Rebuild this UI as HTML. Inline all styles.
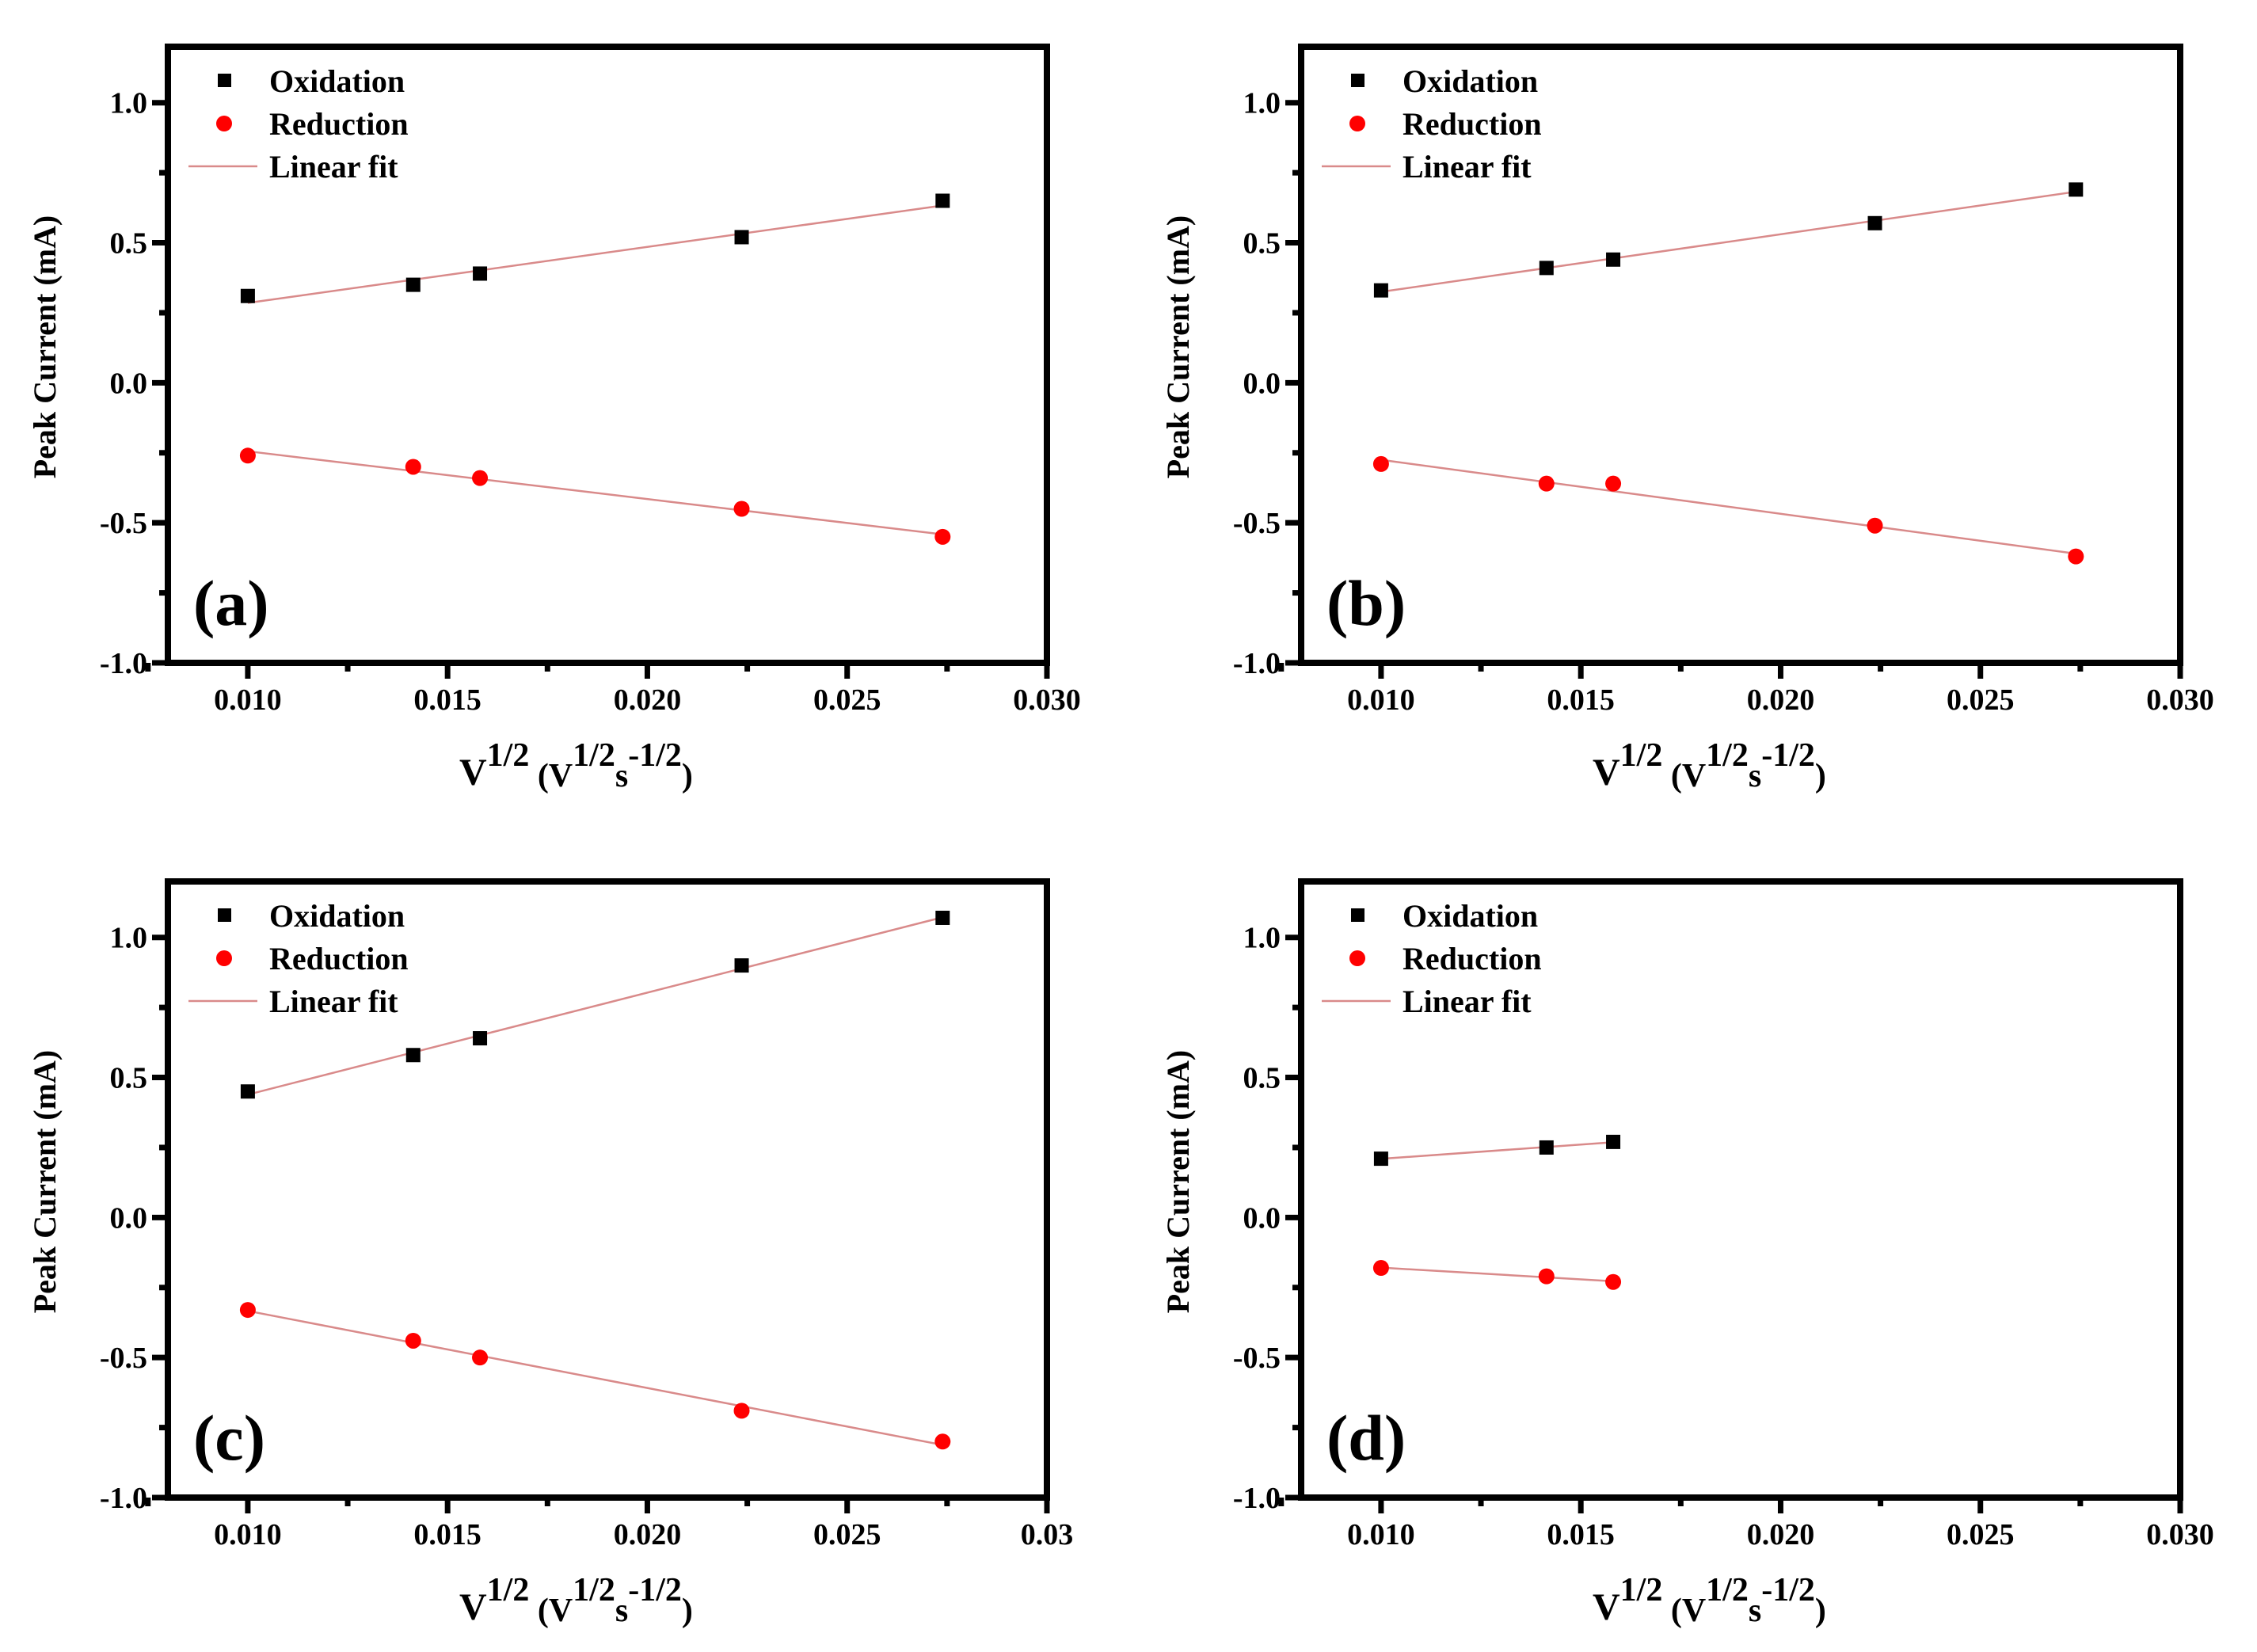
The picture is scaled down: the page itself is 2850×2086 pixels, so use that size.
<!DOCTYPE html>
<html><head><meta charset="utf-8"><style>
html,body{margin:0;padding:0;background:#fff;}
svg{display:block;}
svg text{font-family:"Liberation Serif","DejaVu Serif",serif;font-weight:bold;}
</style></head><body>
<svg id="fig" width="2850" height="2086" viewBox="0 0 2850 2086" xmlns="http://www.w3.org/2000/svg" font-family="Liberation Serif, DejaVu Serif, serif" font-weight="bold"></svg>
<script>
const xValues = [0.010, 0.01414, 0.01581, 0.02236, 0.02739];
const oxA = [0.31, 0.35, 0.39, 0.52, 0.65];
const redA = [-0.26, -0.30, -0.34, -0.45, -0.55];
const oxB = [0.33, 0.41, 0.44, 0.57, 0.69];
const redB = [-0.29, -0.36, -0.36, -0.51, -0.62];
const oxC = [0.45, 0.58, 0.64, 0.90, 1.07];
const redC = [-0.33, -0.44, -0.50, -0.69, -0.80];
const oxD = [0.21, 0.25, 0.27];
const redD = [-0.18, -0.21, -0.23];
const xTicks = [0.010, 0.015, 0.020, 0.025, 0.030];
const xTickLabels = ["0.010", "0.015", "0.020", "0.025", "0.030"];
const xTickLabelsC = ["0.010", "0.015", "0.020", "0.025", "0.03"];
const yTicks = [-1.0, -0.5, 0.0, 0.5, 1.0];
const yTickLabels = ["-1.0", "-0.5", "0.0", "0.5", "1.0"];
const panelLetters = ["(a)", "(b)", "(c)", "(d)"];

const NS = "http://www.w3.org/2000/svg";
const svg = document.getElementById('fig');
function mk(tag, attrs, parent) {
  const e = document.createElementNS(NS, tag);
  for (const k in attrs) e.setAttribute(k, attrs[k]);
  if (tag === 'text') { e.setAttribute('font-family', 'Liberation Serif, DejaVu Serif, serif'); e.setAttribute('font-weight', 'bold'); }
  (parent || svg).appendChild(e);
  return e;
}
function fit(xs, ys) {
  const n = xs.length; let sx=0, sy=0, sxx=0, sxy=0;
  for (let i=0;i<n;i++){sx+=xs[i];sy+=ys[i];sxx+=xs[i]*xs[i];sxy+=xs[i]*ys[i];}
  const m=(n*sxy-sx*sy)/(n*sxx-sx*sx); return [m,(sy-m*sx)/n];
}
const panels = [
  {x0:212, y0:59, ox:oxA, red:redA, labels:xTickLabels},
  {x0:1643, y0:59, ox:oxB, red:redB, labels:xTickLabels},
  {x0:212, y0:1113, ox:oxC, red:redC, labels:xTickLabelsC},
  {x0:1643, y0:1113, ox:oxD, red:redD, labels:xTickLabels}
];
const W = 1110, H = 778, XMIN = 0.008, XMAX = 0.030, YMIN = -1.0, YMAX = 1.2;
panels.forEach((p, pi) => {
  const g = mk('g', {});
  
  
  const sx = v => p.x0 + (v - XMIN) / (XMAX - XMIN) * W;
  const sy = v => p.y0 + H - (v - YMIN) / (YMAX - YMIN) * H;
  const bottom = p.y0 + H;
  for (let t = 0.0075; t <= 0.03001; t += 0.0025) {
    const major = Math.abs(Math.round(t*1000/5)*5 - t*1000) < 1e-6;
    const tk = mk('line', {x1:sx(t), x2:sx(t), y1:bottom, y2:bottom + (major?20:11), stroke:'#000','stroke-width':7}, g);
    
    
  }
  xTicks.forEach((t, i) => {
    const tl = mk('text', {x:sx(t), y:bottom + 59, 'text-anchor':'middle', 'font-size':38}, g);
    tl.textContent = p.labels[i];
    
    
  });
  for (let t = -1.0; t <= 1.0001; t += 0.25) {
    const major = Math.abs(Math.round(t*2) - t*2) < 1e-6;
    const tk = mk('line', {x1:p.x0 - (major?20:11), x2:p.x0, y1:sy(t), y2:sy(t), stroke:'#000','stroke-width':7}, g);
    
    
  }
  yTicks.forEach((t, i) => {
    const tl = mk('text', {x:p.x0 - 26, y:sy(t) + 13, 'text-anchor':'end', 'font-size':38}, g);
    tl.textContent = yTickLabels[i];
    
    
  });
  const fr = mk('rect', {x:p.x0, y:p.y0, width:W, height:H, fill:'none', stroke:'#000', 'stroke-width':8}, g);
  
  
  [p.ox, p.red].forEach((ys, si) => {
    const xs = xValues.slice(0, ys.length);
    const [m, b] = fit(xs, ys);
    const xa = xs[0], xb = xs[xs.length-1];
    const ln = mk('line', {x1:sx(xa), y1:sy(m*xa+b), x2:sx(xb), y2:sy(m*xb+b), stroke:'#d98a8a', 'stroke-width':2.5}, g);
    
    
  });
  p.ox.forEach((v, i) => {
    const r = mk('rect', {x:sx(xValues[i]) - 9, y:sy(v) - 9, width:18, height:18, fill:'#000'}, g);
    
    
  });
  p.red.forEach((v, i) => {
    const c = mk('circle', {cx:sx(xValues[i]), cy:sy(v), r:10, fill:'#ff0000'}, g);
    
    
  });
  const lg = mk('g', {}, g);
  
  
  const lx = p.x0;
  const ls = mk('rect', {x:lx + 63, y:p.y0 + 34, width:17, height:17, fill:'#000'}, lg);
  
  
  const lc = mk('circle', {cx:lx + 71, cy:p.y0 + 97, r:10, fill:'#ff0000'}, lg);
  
  
  const ll = mk('line', {x1:lx + 26, x2:lx + 113, y1:p.y0 + 151, y2:p.y0 + 151, stroke:'#d98a8a', 'stroke-width':2.5}, lg);
  
  
  [["Oxidation", 57], ["Reduction", 111], ["Linear fit", 165]].forEach(([t, dy]) => {
    const te = mk('text', {x:lx + 128, y:p.y0 + dy, 'font-size':40}, lg);
    te.textContent = t;
    
    
  });
  const pl = mk('text', {x:p.x0 + 32, y:p.y0 + 730, 'font-size':82}, g);
  pl.textContent = panelLetters[pi];
  
  
  const yt = mk('text', {x:0, y:0, 'font-size':40, 'text-anchor':'middle', transform:'translate(' + (p.x0 - 142) + ',' + (p.y0 + 379) + ') rotate(-90)'}, g);
  yt.textContent = 'Peak Current (mA)';
  
  
  const xt = mk('text', {x:p.x0 + 368, y:p.y0 + 932, 'font-size':48}, g);
  
  
  xt.innerHTML = 'V<tspan font-size="42" dy="-24">1/2</tspan><tspan font-size="42" dy="26"> (V</tspan><tspan font-size="42" dy="-26">1/2</tspan><tspan font-size="42" dy="26">s</tspan><tspan font-size="42" dy="-26">-1/2</tspan><tspan font-size="42" dy="26">)</tspan>';
});
</script>
</body></html>
